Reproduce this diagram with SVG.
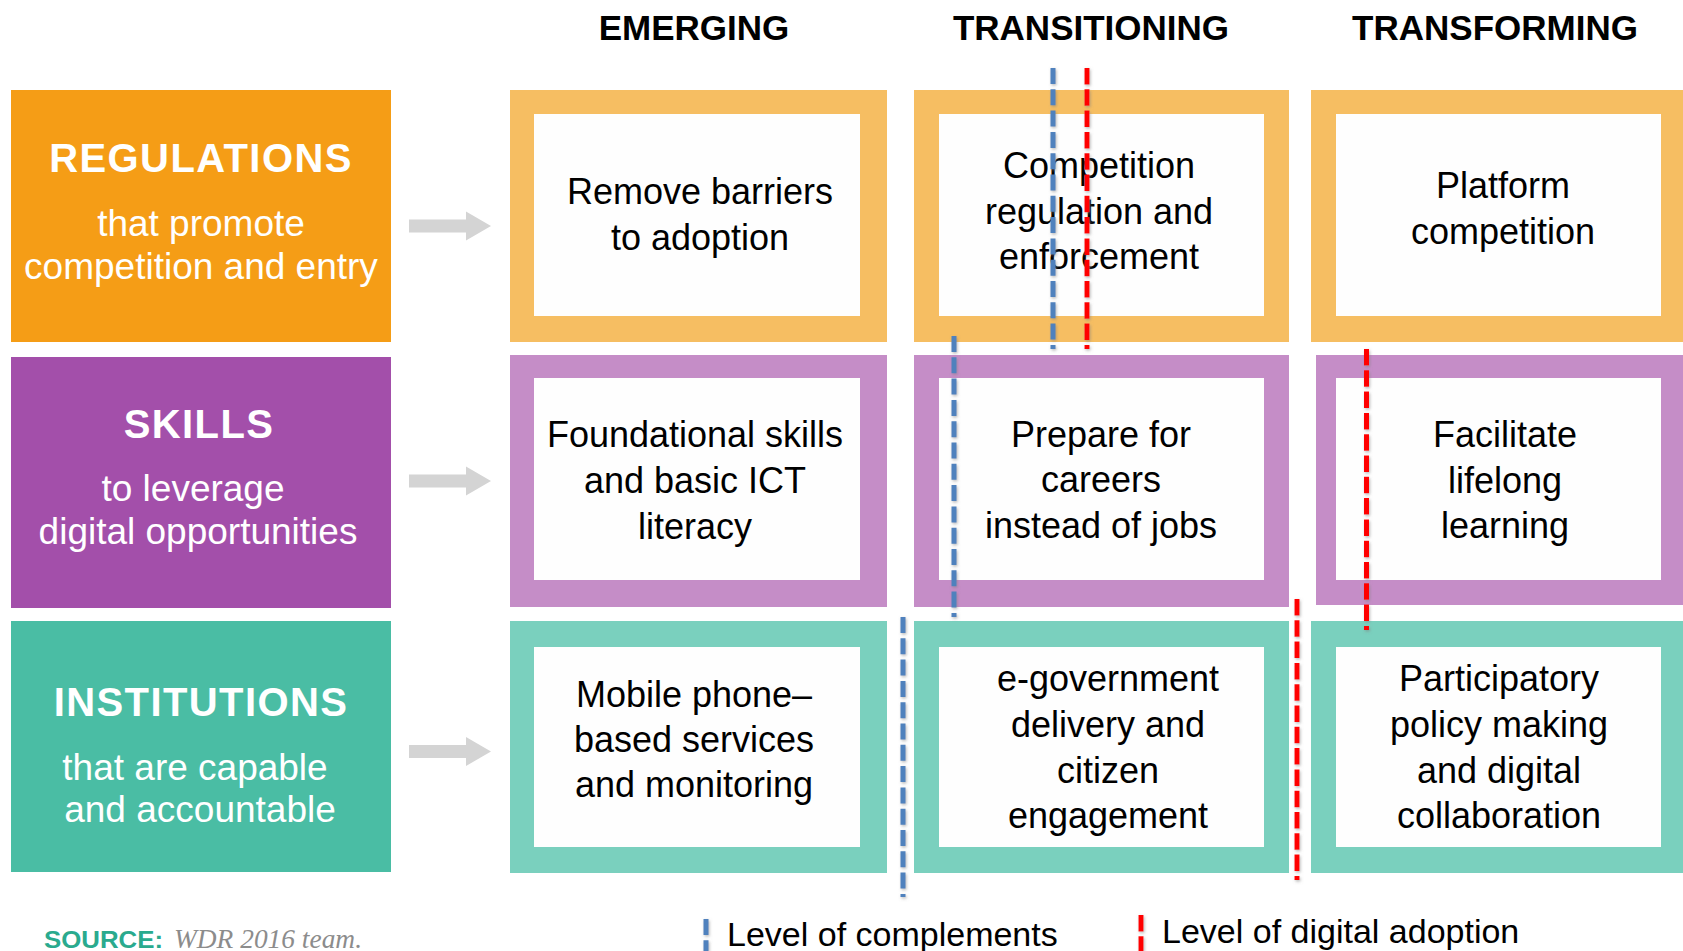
<svg xmlns="http://www.w3.org/2000/svg" width="1683" height="951" viewBox="0 0 1683 951">
<style>
.hdr{font-family:"Liberation Sans",Arial,sans-serif;font-weight:bold;font-size:35px;fill:#000;text-anchor:middle}
.lt{font-family:"Liberation Sans",Arial,sans-serif;font-weight:bold;font-size:40px;fill:#fff;text-anchor:middle;letter-spacing:1.4px}
.ls{font-family:"Liberation Sans",Arial,sans-serif;font-size:37px;fill:#fff;text-anchor:middle}
.ct{font-family:"Liberation Sans",Arial,sans-serif;font-size:36px;fill:#000;text-anchor:middle}
.lg{font-family:"Liberation Sans",Arial,sans-serif;font-size:34px;fill:#000}
.inner{fill:#fefefe}
.fo{fill:#f6be62}.fp{fill:#c58dc7}.ft{fill:#7ad0be}
.arrow{fill:#d4d4d4}
.db{stroke:#4f81bd;stroke-width:5;stroke-dasharray:16 5.3;fill:none}
.dr{stroke:#ff0000;stroke-width:5;stroke-dasharray:16.5 4.8;fill:none}
</style>
<defs>
<filter id="sh" filterUnits="userSpaceOnUse" x="0" y="0" width="1683" height="951">
<feDropShadow dx="1" dy="1.5" stdDeviation="1.5" flood-color="#808080" flood-opacity="0.55"/>
</filter>
<path id="arr" d="M409,-6.5 H466 V-14.5 L491,0 L466,14.5 V6.5 H409 Z"/>
</defs>
<rect width="1683" height="951" fill="#ffffff"/>

<g id="headers">
<text class="hdr" x="694" y="40">EMERGING</text>
<text class="hdr" x="1091" y="40">TRANSITIONING</text>
<text class="hdr" x="1495" y="40">TRANSFORMING</text>
</g>

<g id="regulations">
<rect x="11" y="90" width="380" height="252" fill="#f59d16"/>
<text class="lt" x="201" y="172">REGULATIONS</text>
<text class="ls" x="201" y="236">that promote</text>
<text class="ls" x="201" y="279">competition and entry</text>
</g>
<g id="skills">
<rect x="11" y="357" width="380" height="251" fill="#a34faa"/>
<text class="lt" x="199" y="438">SKILLS</text>
<text class="ls" x="193" y="501">to leverage</text>
<text class="ls" x="198" y="544">digital opportunities</text>
</g>
<g id="institutions">
<rect x="11" y="621" width="380" height="251" fill="#4abda4"/>
<text class="lt" x="201" y="716">INSTITUTIONS</text>
<text class="ls" x="195" y="780">that are capable</text>
<text class="ls" x="200" y="822">and accountable</text>
</g>

<g id="reg-emerging">
<rect class="fo" x="510" y="90" width="377" height="252"/>
<rect class="inner" x="534" y="114" width="326" height="202"/>
<text class="ct" x="700" y="204">Remove barriers</text>
<text class="ct" x="700" y="250">to adoption</text>
</g>
<g id="reg-transitioning">
<rect class="fo" x="914" y="90" width="375" height="252"/>
<rect class="inner" x="939" y="114" width="325" height="202"/>
<text class="ct" x="1099" y="178">Competition</text>
<text class="ct" x="1099" y="224">regulation and</text>
<text class="ct" x="1099" y="269">enforcement</text>
</g>
<g id="reg-transforming">
<rect class="fo" x="1311" y="90" width="380" height="252"/>
<rect class="inner" x="1336" y="114" width="325" height="202"/>
<text class="ct" x="1503" y="198">Platform</text>
<text class="ct" x="1503" y="244">competition</text>
</g>

<g id="skills-emerging">
<rect class="fp" x="510" y="355" width="377" height="252"/>
<rect class="inner" x="534" y="378" width="326" height="202"/>
<text class="ct" x="695" y="447">Foundational skills</text>
<text class="ct" x="695" y="493">and basic ICT</text>
<text class="ct" x="695" y="539">literacy</text>
</g>
<g id="skills-transitioning">
<rect class="fp" x="914" y="355" width="375" height="252"/>
<rect class="inner" x="939" y="378" width="325" height="202"/>
<text class="ct" x="1101" y="447">Prepare for</text>
<text class="ct" x="1101" y="492">careers</text>
<text class="ct" x="1101" y="538">instead of jobs</text>
</g>
<g id="skills-transforming">
<rect class="fp" x="1316" y="355" width="375" height="250"/>
<rect class="inner" x="1336" y="378" width="325" height="202"/>
<text class="ct" x="1505" y="447">Facilitate</text>
<text class="ct" x="1505" y="493">lifelong</text>
<text class="ct" x="1505" y="538">learning</text>
</g>

<g id="inst-emerging">
<rect class="ft" x="510" y="621" width="377" height="252"/>
<rect class="inner" x="534" y="647" width="326" height="200"/>
<text class="ct" x="694" y="707">Mobile phone–</text>
<text class="ct" x="694" y="752">based services</text>
<text class="ct" x="694" y="797">and monitoring</text>
</g>
<g id="inst-transitioning">
<rect class="ft" x="914" y="621" width="375" height="252"/>
<rect class="inner" x="939" y="647" width="325" height="200"/>
<text class="ct" x="1108" y="691">e-government</text>
<text class="ct" x="1108" y="737">delivery and</text>
<text class="ct" x="1108" y="783">citizen</text>
<text class="ct" x="1108" y="828">engagement</text>
</g>
<g id="inst-transforming">
<rect class="ft" x="1311" y="621" width="380" height="252"/>
<rect class="inner" x="1336" y="647" width="325" height="200"/>
<text class="ct" x="1499" y="691">Participatory</text>
<text class="ct" x="1499" y="737">policy making</text>
<text class="ct" x="1499" y="783">and digital</text>
<text class="ct" x="1499" y="828">collaboration</text>
</g>

<g id="connectors">
<use href="#arr" class="arrow" transform="translate(0,226)"/>
<use href="#arr" class="arrow" transform="translate(0,481)"/>
<use href="#arr" class="arrow" transform="translate(0,751.5)"/>
</g>

<g id="level-lines" filter="url(#sh)">
<line class="db" x1="1053" y1="68" x2="1053" y2="349"/>
<line class="dr" x1="1087" y1="68" x2="1087" y2="349"/>
<line class="db" x1="954" y1="336" x2="954" y2="617"/>
<line class="dr" x1="1366.5" y1="349" x2="1366.5" y2="630"/>
<line class="db" x1="903" y1="617" x2="903" y2="897"/>
<line class="dr" x1="1297" y1="599" x2="1297" y2="880"/>
</g>

<g id="legend">
<line class="db" x1="706" y1="919" x2="706" y2="951" filter="url(#sh)"/>
<text class="lg" x="727" y="946">Level of complements</text>
<line class="dr" x1="1141" y1="915" x2="1141" y2="951" filter="url(#sh)"/>
<text class="lg" x="1162" y="943">Level of digital adoption</text>
</g>

<g id="source">
<text x="44" y="948" font-family="'Liberation Sans',Arial,sans-serif" font-weight="bold" font-size="24" fill="#2aaa8e" textLength="119" lengthAdjust="spacingAndGlyphs">SOURCE:</text>
<text x="174" y="948" font-family="'Liberation Serif','Times New Roman',serif" font-style="italic" font-size="27" fill="#8c8c8c" textLength="188" lengthAdjust="spacingAndGlyphs">WDR 2016 team.</text>
</g>
</svg>
